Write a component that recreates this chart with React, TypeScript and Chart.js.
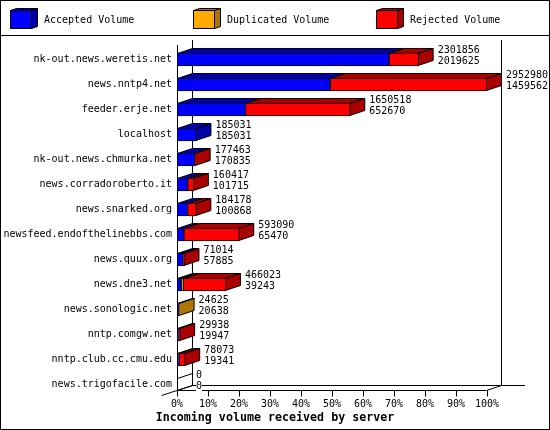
import React, { useEffect, useRef } from 'react';
import { Chart, registerables } from 'chart.js';

Chart.register(...registerables);

const servers = [
  'nk-out.news.weretis.net',
  'news.nntp4.net',
  'feeder.erje.net',
  'localhost',
  'nk-out.news.chmurka.net',
  'news.corradoroberto.it',
  'news.snarked.org',
  'newsfeed.endofthelinebbs.com',
  'news.quux.org',
  'news.dne3.net',
  'news.sonologic.net',
  'nntp.comgw.net',
  'nntp.club.cc.cmu.edu',
  'news.trigofacile.com',
];
const offered = [2301856, 2952980, 1650518, 185031, 177463, 160417, 184178, 593090, 71014, 466023, 24625, 29938, 78073, 0];
const accepted = [2019625, 1459562, 652670, 185031, 170835, 101715, 100868, 65470, 57885, 39243, 20638, 19947, 19341, 0];
const duplicated = [0, 0, 0, 0, 0, 0, 0, 0, 0, 22000, 3987, 0, 0, 0];
const rejected = [282231, 1493418, 997848, 0, 6628, 58702, 83310, 527620, 13129, 404780, 0, 9991, 58732, 0];

const seriesNames = ['Accepted Volume', 'Duplicated Volume', 'Rejected Volume'];
const frontColors = ['#0000ff', '#ffaa00', '#ff0000'];
const shadeColors = ['#0000aa', '#aa7700', '#aa0000'];
const seriesValues = [accepted, duplicated, rejected];
const MAX_VOLUME = 2952980;

const DEPTH_X = 15;
const DEPTH_Y = 5;
const MONO = '"DejaVu Sans Mono"';

const line = (ctx: CanvasRenderingContext2D, x1: number, y1: number, x2: number, y2: number) => {
  ctx.beginPath();
  ctx.moveTo(x1, y1);
  ctx.lineTo(x2, y2);
  ctx.stroke();
};

const face = (ctx: CanvasRenderingContext2D, pts: number[][], fill: string | null) => {
  ctx.beginPath();
  pts.forEach((p, i) => (i ? ctx.lineTo(p[0], p[1]) : ctx.moveTo(p[0], p[1])));
  ctx.closePath();
  if (fill) {
    ctx.fillStyle = fill;
    ctx.fill();
  }
  ctx.stroke();
};

// frame, legend band and the box walls behind the bars
const backdrop = {
  id: 'backdrop',
  beforeDatasetsDraw(chart: any) {
    const { ctx } = chart;
    const x = chart.scales.x;
    const left = x.getPixelForValue(0) + 0.5;
    const right = x.getPixelForValue(MAX_VOLUME) - 0.5;
    const floor = 390.5;
    ctx.save();
    ctx.strokeStyle = '#000';
    ctx.lineWidth = 1;
    ctx.strokeRect(0.5, 0.5, 549, 429);
    line(ctx, 0, 35.5, 550, 35.5);

    // legend
    seriesNames.forEach((name, i) => {
      const bx = [10.5, 193.5, 376.5][i];
      const tx = [44, 227, 410][i];
      face(ctx, [[bx, 10.5], [bx + 6, 8.5], [bx + 27, 8.5], [bx + 21, 10.5]], shadeColors[i]);
      face(ctx, [[bx + 21, 10.5], [bx + 27, 8.5], [bx + 27, 26.5], [bx + 21, 28.5]], shadeColors[i]);
      ctx.fillStyle = frontColors[i];
      ctx.fillRect(bx, 10.5, 21, 18);
      ctx.strokeRect(bx, 10.5, 21, 18);
      ctx.fillStyle = '#000';
      ctx.font = `10px ${MONO}`;
      ctx.textAlign = 'left';
      ctx.textBaseline = 'middle';
      ctx.fillText(name, tx, 20.5);
    });

    // walls
    line(ctx, left, 45, left, floor);
    line(ctx, left + DEPTH_X, 40, left + DEPTH_X, floor - DEPTH_Y);
    line(ctx, right + DEPTH_X, 40, right + DEPTH_X, floor - DEPTH_Y);
    line(ctx, left, floor, right, floor);
    line(ctx, left + DEPTH_X, floor - DEPTH_Y, 525, floor - DEPTH_Y);
    line(ctx, 161.5, floor + 5, left + DEPTH_X, floor - DEPTH_Y);
    line(ctx, right, floor, right + DEPTH_X, floor - DEPTH_Y);
    x.ticks.forEach((t: any) => {
      const px = Math.floor(x.getPixelForValue(t.value)) + 0.5;
      line(ctx, px, floor, px, floor + 6);
    });

    // top and side faces of each bar, the fronts come from the bar datasets
    const y = chart.scales.y;
    servers.forEach((_, row) => {
      const mid = y.getPixelForValue(row);
      const top = mid - 6;
      const bottom = mid + 6;
      let start = 0;
      let lastColor: string | null = null;
      seriesValues.forEach((values, s) => {
        if (!values[row]) return;
        const a = x.getPixelForValue(start) + 0.5;
        const b = x.getPixelForValue(start + values[row]) - 0.5;
        face(ctx, [[a, top], [b, top], [b + DEPTH_X, top - DEPTH_Y], [a + DEPTH_X, top - DEPTH_Y]], shadeColors[s]);
        start += values[row];
        lastColor = shadeColors[s];
      });
      const e = start ? x.getPixelForValue(start) - 0.5 : left;
      face(ctx, [[e, top], [e + DEPTH_X, top - DEPTH_Y], [e + DEPTH_X, bottom - DEPTH_Y], [e, bottom]], lastColor);
    });
    ctx.restore();
  },
  afterDatasetsDraw(chart: any) {
    const { ctx } = chart;
    const x = chart.scales.x;
    const y = chart.scales.y;
    ctx.save();
    ctx.font = `10px ${MONO}`;
    ctx.textAlign = 'left';
    ctx.textBaseline = 'middle';
    servers.forEach((_, row) => {
      const mid = y.getPixelForValue(row);
      const tx = x.getPixelForValue(offered[row]) + DEPTH_X + 4;
      [[offered[row], -9], [accepted[row], 2]].forEach(([value, dy]) => {
        const text = String(value);
        ctx.fillStyle = '#fff';
        ctx.fillRect(tx, mid + dy - 5, ctx.measureText(text).width, 10);
        ctx.fillStyle = '#000';
        ctx.fillText(text, tx, mid + dy);
      });
    });
    ctx.restore();
  },
};

export default function App() {
  const canvasRef = useRef<HTMLCanvasElement | null>(null);

  useEffect(() => {
    if (!canvasRef.current) return;
    const chart = new Chart(canvasRef.current, {
      type: 'bar',
      data: {
        labels: servers,
        datasets: seriesNames.map((name, i) => ({
          label: name,
          data: seriesValues[i],
          backgroundColor: frontColors[i],
          borderColor: '#000',
          borderWidth: 1,
          borderSkipped: false,
          barThickness: 13,
        })),
      },
      options: {
        indexAxis: 'y',
        responsive: false,
        animation: false,
        devicePixelRatio: 1,
        layout: { padding: { top: 47 } },
        scales: {
          x: {
            stacked: true,
            min: 0,
            max: MAX_VOLUME,
            grid: { display: false, drawTicks: false },
            border: { display: false },
            afterFit: (scale: any) => {
              scale.height = 14;
            },
            ticks: {
              stepSize: MAX_VOLUME / 10,
              autoSkip: false,
              maxRotation: 0,
              padding: 1,
              color: '#000',
              font: { family: MONO, size: 10 },
              callback: (value: any) => `${Math.round((Number(value) / MAX_VOLUME) * 100)}%`,
            },
          },
          y: {
            stacked: true,
            grid: { display: false, drawTicks: false },
            border: { display: false },
            afterFit: (scale: any) => {
              scale.width = 177;
            },
            ticks: {
              autoSkip: false,
              padding: 5,
              color: '#000',
              font: { family: MONO, size: 10 },
            },
          },
          // empty axis that only holds the room on the right of the plot
          spacer: {
            type: 'linear',
            position: 'right',
            grid: { display: false, drawTicks: false },
            border: { display: false },
            ticks: { display: false },
            afterFit: (scale: any) => {
              scale.width = 63;
            },
          },
        },
        plugins: {
          legend: { display: false },
          tooltip: { enabled: false },
          title: {
            display: true,
            text: 'Incoming volume received by server',
            position: 'bottom',
            color: '#000',
            font: { family: MONO, size: 11.67, weight: 'bold' },
            padding: { top: 0, bottom: 5 },
          },
        },
      },
      plugins: [backdrop],
    } as any);
    return () => {
      chart.destroy();
    };
  }, []);

  return (
    <div style={{ position: 'absolute', left: 0, top: 0, width: 550, height: 430, background: '#fff' }}>
      <canvas ref={canvasRef} width={550} height={430} style={{ display: 'block' }} />
    </div>
  );
}
